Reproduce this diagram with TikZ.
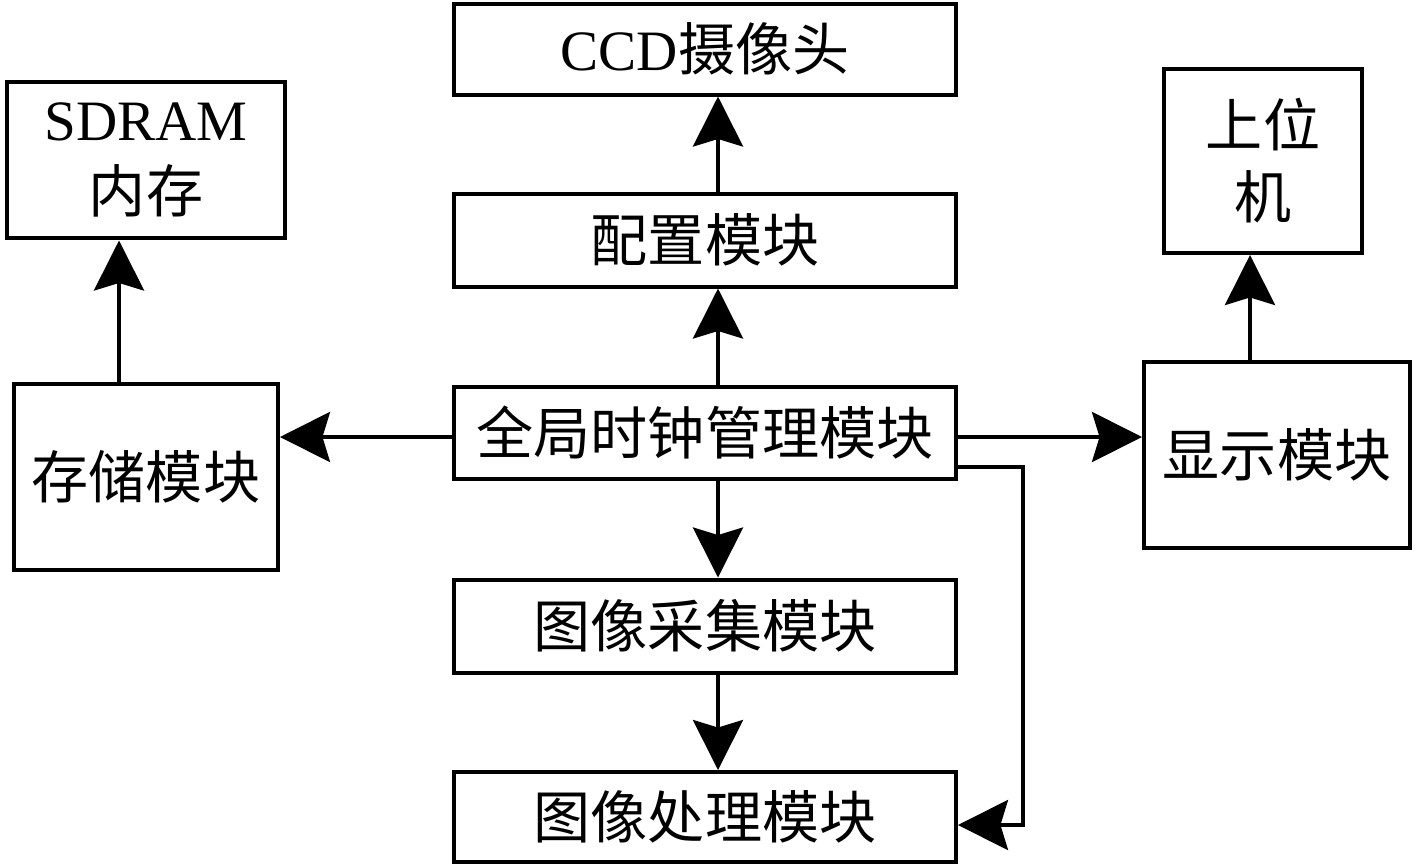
\documentclass[tikz,border=0pt]{standalone}
\usepackage{fontspec}
\setmainfont{Liberation Serif}
\newfontfamily\cjk{Noto Sans CJK SC}
\usetikzlibrary{arrows.meta,positioning}
\newcommand\lat[1]{{\rmfamily #1}}

\begin{document}
\begin{tikzpicture}[x=0.02cm,y=-0.02cm,
  box/.style={draw,line width=0.08cm,inner sep=0pt,align=center,
    font=\cjk\fontsize{32.5}{41}\selectfont},
  arr/.style={line width=0.08cm,-{Stealth[length=1cm,width=1cm,inset=0.15cm]}}]
\useasboundingbox (0,0) rectangle (1417,867);
% middle column
\node[box,minimum width=10.04cm,minimum height=1.82cm] (ccd) at (705,49) {\lat{CCD}摄像头};
\node[box,minimum width=10.04cm,minimum height=1.86cm] (pz) at (705,240) {配置模块};
\node[box,minimum width=10.04cm,minimum height=1.84cm] (qj) at (705,433) {全局时钟管理模块};
\node[box,minimum width=10.04cm,minimum height=1.86cm] (cj) at (705,626) {图像采集模块};
\node[box,minimum width=10.04cm,minimum height=1.80cm] (cl) at (705,817) {图像处理模块};
% left and right
\node[box,minimum width=5.56cm,minimum height=3.14cm] (sd) at (146,160) {\lat{SDRAM}\\内存};
\node[box,minimum width=5.28cm,minimum height=3.72cm] (cc) at (146,477) {存储模块};
\node[box,minimum width=3.98cm,minimum height=3.68cm] (sw) at (1263,161) {上位\\机};
\node[box,minimum width=5.32cm,minimum height=3.72cm] (xs) at (1277,455) {显示模块};
\coordinate (fb) at (1023,825);

\draw[arr] ([xshift=0.26cm]pz.north) -- ([xshift=0.26cm]ccd.south);
\draw[arr] ([xshift=0.26cm]qj.north) -- ([xshift=0.26cm]pz.south);
\draw[arr] ([xshift=0.26cm]qj.south) -- ([xshift=0.26cm]cj.north);
\draw[arr] ([xshift=0.26cm]cj.south) -- ([xshift=0.26cm]cl.north);
\draw[arr] ([yshift=-0.08cm]qj.west) -- ([yshift=-0.08cm]qj.west -| cc.east);
\draw[arr] ([yshift=-0.08cm]qj.east) -- ([yshift=-0.08cm]qj.east -| xs.west);
\draw[arr] ([xshift=-0.54cm]cc.north) -- ([xshift=-0.54cm]sd.south);
\draw[arr] ([xshift=-0.54cm]xs.north) -- ([xshift=-0.54cm]xs.north |- sw.south);
\draw[arr] ([yshift=-0.68cm]qj.east) -| (fb) -- (fb -| cl.east);
\end{tikzpicture}
\end{document}
